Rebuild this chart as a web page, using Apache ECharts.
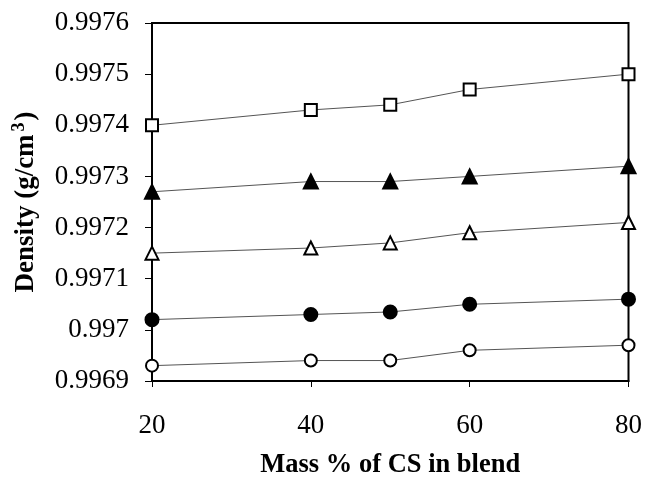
<!DOCTYPE html>
<html><head><meta charset="utf-8">
<script src="https://cdn.jsdelivr.net/npm/echarts@6/dist/echarts.min.js"></script>
<style>html,body{margin:0;padding:0;background:#fff}#c{width:645px;height:489px}</style>
</head><body><div id="c"></div>
<script>
const massPct = [20, 40, 50, 60, 80];
const xTicks = [20, 40, 60, 80];
const openSquares = [0.99740, 0.99743, 0.99744, 0.99747, 0.99750];
const filledTriangles = [0.99727, 0.99729, 0.99729, 0.99730, 0.99732];
const openTriangles = [0.99715, 0.99716, 0.99717, 0.99719, 0.99721];
const filledCircles = [0.99702, 0.99703, 0.997035, 0.99705, 0.99706];
const openCircles = [0.99693, 0.99694, 0.99694, 0.99696, 0.99697];

const font = 'Liberation Serif';
function mk(vals, symbol, filled, size) {
  return {
    type: 'line',
    data: massPct.map((x, i) => [x, vals[i]]),
    symbol: symbol, symbolSize: size, showSymbol: true,
    clip: false,
    lineStyle: { color: '#555', width: 1 },
    itemStyle: { color: filled ? '#000' : '#fff', borderColor: '#000', borderWidth: 2 },
    z: 3
  };
}
const chart = echarts.init(document.getElementById('c'), null, { renderer: 'canvas' });
chart.setOption({
  animation: false,
  backgroundColor: '#fff',
  grid: { left: 152, right: 16, top: 23, bottom: 108, show: true, borderColor: '#000', borderWidth: 2 },
  xAxis: {
    type: 'value', min: 20, max: 80, interval: 20,
    name: 'Mass % of CS in blend', nameLocation: 'middle', nameGap: 71,
    nameTextStyle: { fontFamily: font, fontWeight: 'bold', fontSize: 26.5, color: '#000' },
    axisLine: { show: true, lineStyle: { color: '#000', width: 2 } },
    axisTick: { show: true, inside: false, length: 6, lineStyle: { color: '#000', width: 1 } },
    axisLabel: { fontFamily: font, fontSize: 27, color: '#000', margin: 31,
      formatter: v => xTicks.includes(v) ? String(v) : '' },
    splitLine: { show: false }
  },
  yAxis: {
    type: 'value', min: 0.9969, max: 0.9976, interval: 0.0001,
    name: '{b|Density (g/cm}{s|3}{b|)}', nameLocation: 'middle', nameGap: 110, nameRotate: 90,
    nameTextStyle: { rich: {
      b: { fontFamily: font, fontWeight: 'bold', fontSize: 27, color: '#000' },
      s: { fontFamily: font, fontWeight: 'bold', fontSize: 18, color: '#000', verticalAlign: 'bottom', padding: [0,2,14,3] }
    } },
    axisLine: { show: true, lineStyle: { color: '#000', width: 2 } },
    axisTick: { show: true, inside: false, length: 7, lineStyle: { color: '#000', width: 1 } },
    axisLabel: { fontFamily: font, fontSize: 27, color: '#000', margin: 23,
      formatter: v => String(+v.toFixed(4)) },
    splitLine: { show: false }
  },
  series: [
    mk(openSquares, 'rect', false, 12),
    mk(filledTriangles, 'triangle', true, 14),
    mk(openTriangles, 'triangle', false, 13),
    mk(filledCircles, 'circle', true, 13),
    mk(openCircles, 'circle', false, 12)
  ]
});
</script></body></html>
